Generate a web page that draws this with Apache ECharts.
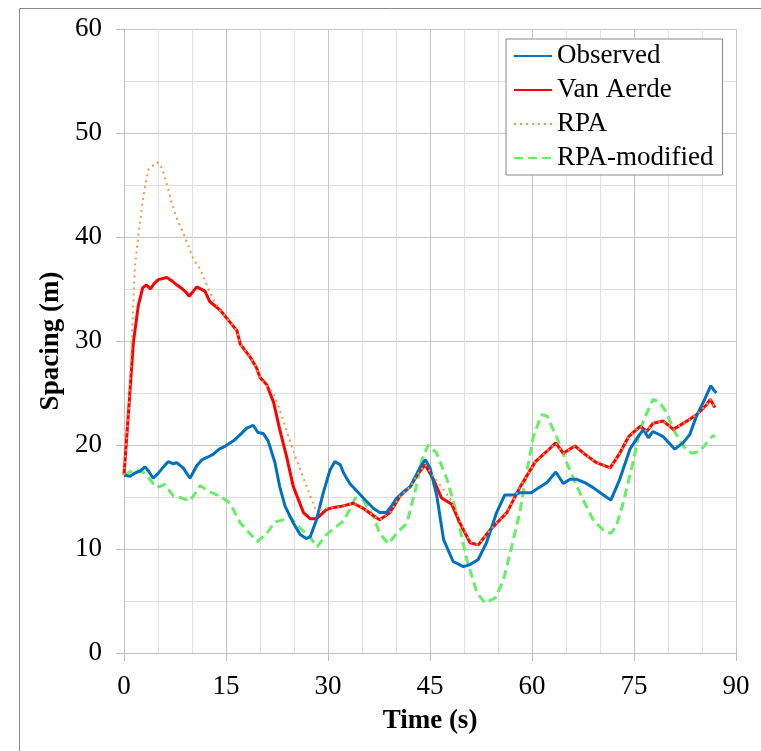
<!DOCTYPE html>
<html>
<head>
<meta charset="utf-8">
<script src="https://cdn.jsdelivr.net/npm/echarts@6/dist/echarts.min.js"></script>
<style>
html,body{margin:0;padding:0;background:#fff;}
#chart{width:761px;height:751px;}
</style>
</head>
<body>
<div id="chart"></div>
<script>
// ---- Data ----
var seriesNames = ['Observed', 'Van Aerde', 'RPA', 'RPA-modified'];
var xTicks = [0, 15, 30, 45, 60, 75, 90];
var yTicks = [0, 10, 20, 30, 40, 50, 60];

var observedT = [0,0.9,1.6,2.35,3.1,3.6,4.3,5.05,5.8,6.5,7.2,7.75,8.7,9.7,10.7,11.5,12.2,13.1,14.0,14.9,16.1,17.1,18.0,19.0,19.7,20.5,21.2,22.2,22.9,23.7,24.9,25.9,26.8,27.4,28.3,29.3,30.3,31.0,31.8,32.3,33.2,34.2,35.2,36.7,37.6,38.6,39.4,40.1,41.1,42.1,43.5,44.3,45.0,46.0,47.0,48.4,49.9,50.9,52.1,53.3,54.8,56.0,57.3,58.2,59.9,61.0,62.2,63.5,64.6,65.6,66.6,68.0,69.0,70.5,71.6,72.9,74.4,75.6,76.4,77.1,77.8,79.3,81.0,82.2,83.2,84.2,85.4,86.3,86.7,87.1];
var observedS = [17.1,17.0,17.3,17.5,17.9,17.5,16.8,17.3,17.9,18.4,18.2,18.3,17.8,16.8,18.0,18.6,18.8,19.1,19.6,19.9,20.4,21.0,21.6,21.9,21.2,21.1,20.4,18.3,16.0,14.1,12.5,11.4,11.0,11.2,12.8,15.4,17.6,18.4,18.1,17.3,16.3,15.6,14.9,13.9,13.5,13.5,14.2,14.9,15.5,16.0,17.8,18.6,17.8,15.1,10.9,8.8,8.3,8.5,9.0,10.6,13.5,15.2,15.2,15.4,15.4,15.9,16.4,17.4,16.3,16.7,16.7,16.3,15.9,15.2,14.7,16.7,19.6,20.8,21.5,20.7,21.3,20.8,19.6,20.2,21.0,22.8,24.4,25.7,25.3,25.0];

var vanAerdeT = [0,0.7,1.37,2.1,2.75,3.3,3.9,4.4,5.05,6.3,7.0,7.75,8.6,9.1,9.6,10.7,11.9,12.6,14.1,15.1,16.6,17.1,18.5,19.5,20.0,21.0,22.0,22.9,23.9,24.9,26.4,27.4,28.3,29.8,30.8,32.0,33.7,35.2,36.5,37.6,39.1,40.6,42.1,43.3,44.3,45.5,46.7,48.2,49.4,50.9,52.1,53.8,56.3,58.2,60.5,62.2,63.5,64.6,66.3,68.0,69.5,71.5,72.9,74.2,75.9,76.9,77.8,79.3,80.8,82.8,84.2,85.7,86.2,86.9];
var vanAerdeS = [17.1,23.5,29.8,33.4,35.1,35.4,35.0,35.5,35.9,36.1,35.8,35.4,35.0,34.7,34.3,35.2,34.8,33.8,33.0,32.2,31.0,29.7,28.5,27.4,26.5,25.8,24.1,21.5,18.9,16.0,13.5,12.9,12.9,13.8,14.0,14.1,14.4,13.9,13.3,12.8,13.5,15.1,16.0,17.3,18.1,16.7,14.9,14.3,12.5,10.6,10.4,11.8,13.5,15.9,18.4,19.4,20.2,19.2,19.9,19.0,18.3,17.8,19.2,20.8,21.8,21.3,22.1,22.3,21.5,22.3,22.9,23.9,24.4,23.6];

var rpaT = [0,0.7,1.0,1.6,2.1,2.6,3.1,3.6,4.3,4.8,5.3,5.8,6.5,7.0,7.75,8.7,9.5,10.2,11.2,12.6,13.5,14.1,15.1,16.6,17.1,18.5,19.5,20.0,20.5,22.0,23.4,24.9,26.4,27.4,28.1,28.8,29.8,30.8,32.0,33.7,35.2,36.5,37.6,39.1,40.6,42.1,43.3,44.3,45.5,47.0,48.2,49.4,50.9,52.1,53.8,56.3,58.2,60.5,62.2,63.5,64.6,66.3,68.0,69.5,71.5,72.9,74.2,75.9,76.9,77.8,79.3,80.8,82.8,84.2,85.7,86.2,86.9];
var rpaS = [17.1,23.5,28.0,37.1,40.1,42.7,44.9,46.5,46.9,47.2,47.0,46.2,44.6,43.3,41.8,40.4,39.1,37.9,36.9,34.7,33.6,33.0,32.2,31.0,29.7,28.5,27.4,26.5,26.0,25.0,22.4,19.4,16.8,15.1,13.9,13.8,13.9,14.0,14.1,14.4,13.9,13.3,12.8,13.5,15.1,16.0,17.3,18.1,17.0,15.7,14.6,12.7,10.7,10.4,11.8,13.5,15.9,18.4,19.4,20.2,19.2,19.9,19.0,18.3,17.8,19.2,20.8,21.8,21.3,22.1,22.3,21.5,22.3,22.9,23.9,24.4,23.6];

var rpaModT = [0,1.4,2.8,3.8,4.8,6.0,7.25,8.5,9.7,11.2,12.6,14.1,15.6,17.1,18.5,19.6,21.0,22.2,23.4,24.4,25.9,27.4,28.4,29.8,31.3,32.3,33.2,34.0,35.2,36.7,37.6,38.9,40.1,41.6,42.8,43.8,44.75,46.0,47.5,48.9,50.4,51.9,53.1,54.6,55.8,57.0,58.2,59.2,60.2,61.4,62.2,63.6,65.1,67.1,69.0,70.5,71.6,72.4,73.4,74.7,75.9,76.9,77.8,78.8,79.8,80.8,82.2,83.5,84.7,85.7,86.6,86.9];
var rpaModS = [17.1,17.6,17.4,16.7,15.9,16.2,15.1,14.9,14.6,16.1,15.5,15.1,14.4,12.5,11.5,10.7,11.5,12.6,12.8,13.1,12.0,11.1,10.2,11.4,12.2,12.7,13.8,14.9,14.7,13.1,11.5,10.5,11.5,12.5,15.5,18.6,20.0,19.2,16.7,13.5,9.0,5.8,4.8,5.3,7.0,10.2,13.5,17.3,20.8,22.9,22.8,20.8,18.3,15.3,12.8,11.8,11.5,12.2,14.4,17.9,21.5,23.1,24.4,24.1,23.1,21.5,19.9,19.2,19.4,20.2,20.9,20.8];

function pairs(t, s) { return t.map(function (v, i) { return [v, s[i]]; }); }

var FONT = 'Liberation Serif, Times New Roman, serif';
var chart = echarts.init(document.getElementById('chart'), null, {renderer: 'canvas'});
chart.setOption({
  animation: false,
  backgroundColor: '#ffffff',
  graphic: [{
    type: 'rect', left: 17, top: 6, z: -10, silent: true,
    shape: {x: 0, y: 0, width: 800, height: 800},
    style: {fill: null, stroke: '#8a8a8a', lineWidth: 1}
  }],
  grid: {left: 124, right: 25, top: 29, bottom: 98, containLabel: false},
  legend: {
    show: true,
    data: seriesNames,
    orient: 'vertical',
    left: 506, top: 39,
    padding: [3, 9, 3, 7],
    itemGap: 6,
    itemWidth: 38, itemHeight: 14,
    backgroundColor: '#ffffff',
    borderColor: '#8a8a8a', borderWidth: 1, borderRadius: 0,
    itemStyle: {opacity: 0},
    textStyle: {fontFamily: FONT, fontSize: 27, color: '#000', lineHeight: 28}
  },
  xAxis: {
    type: 'value', min: 0, max: 90, interval: 15,
    name: 'Time (s)', nameLocation: 'middle', nameGap: 55,
    nameTextStyle: {fontFamily: FONT, fontSize: 27, fontWeight: 'bold', color: '#000'},
    axisLine: {show: true, lineStyle: {color: '#bdbdbd', width: 1}},
    axisTick: {show: true, inside: false, length: 8, lineStyle: {color: '#bdbdbd'}},
    axisLabel: {fontFamily: FONT, fontSize: 27, color: '#000', margin: 20,
      formatter: function (v) { return xTicks.indexOf(v) >= 0 ? String(v) : ''; }},
    splitLine: {show: true, lineStyle: {color: '#c4c4c4', width: 1}},
    minorTick: {show: false, splitNumber: 3},
    minorSplitLine: {show: true, lineStyle: {color: '#e0e0e0', width: 1}}
  },
  yAxis: {
    type: 'value', min: 0, max: 60, interval: 10,
    name: 'Spacing (m)', nameLocation: 'middle', nameGap: 50,
    nameTextStyle: {fontFamily: FONT, fontSize: 27, fontWeight: 'bold', color: '#000'},
    axisLine: {show: true, lineStyle: {color: '#bdbdbd', width: 1}},
    axisTick: {show: true, inside: false, length: 8, lineStyle: {color: '#bdbdbd'}},
    axisLabel: {fontFamily: FONT, fontSize: 27, color: '#000', margin: 22,
      formatter: function (v) { return yTicks.indexOf(v) >= 0 ? String(v) : ''; }},
    splitLine: {show: true, lineStyle: {color: '#c4c4c4', width: 1}},
    minorTick: {show: false, splitNumber: 2},
    minorSplitLine: {show: true, lineStyle: {color: '#e0e0e0', width: 1}}
  },
  series: [
    {name: 'Observed', type: 'line', data: pairs(observedT, observedS), showSymbol: false, symbol: 'none',
     z: 4, color: '#0070C0', lineStyle: {color: '#0070C0', width: 3}},
    {name: 'Van Aerde', type: 'line', data: pairs(vanAerdeT, vanAerdeS), showSymbol: false, symbol: 'none',
     z: 3, color: '#FF0000', lineStyle: {color: '#FF0000', width: 3}},
    {name: 'RPA', type: 'line', data: pairs(rpaT, rpaS), showSymbol: false, symbol: 'none',
     z: 5, color: '#F79646', lineStyle: {color: '#F79646', width: 2, type: [2, 4]}},
    {name: 'RPA-modified', type: 'line', data: pairs(rpaModT, rpaModS), showSymbol: false, symbol: 'none',
     z: 2, color: '#66EE66', lineStyle: {color: '#66EE66', width: 3, type: [9, 5]}}
  ]
});
</script>
</body>
</html>
